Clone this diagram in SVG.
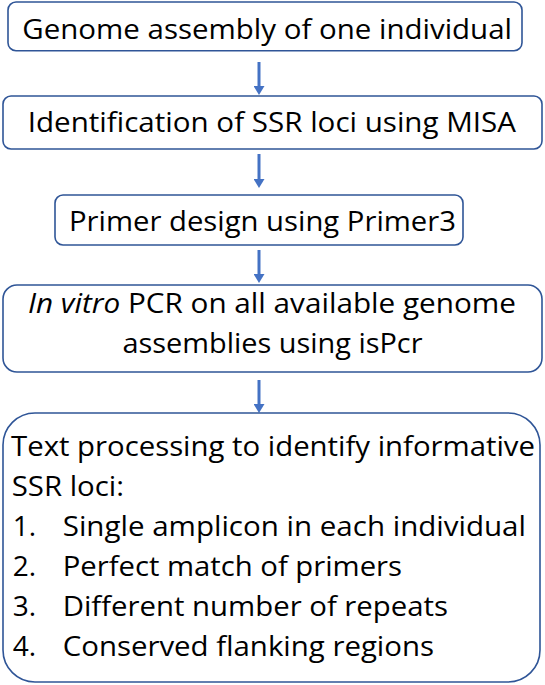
<svg xmlns="http://www.w3.org/2000/svg" width="545" height="685" viewBox="0 0 545 685">
<style>
.box{fill:#ffffff;stroke:#2F5597;stroke-width:1.6}
.t{font-family:"Open Sans","Liberation Sans",sans-serif;font-size:28px;fill:#000000}
.arr{stroke:#4472C4;stroke-width:3;fill:none}
</style>
<defs>
<marker id="ah" viewBox="0 0 9 11" refX="0" refY="5.5" markerWidth="9" markerHeight="11" markerUnits="userSpaceOnUse" orient="auto">
<path d="M0,0 L9,5.5 L0,11 z" fill="#4472C4"/>
</marker>
</defs>
<rect width="545" height="685" fill="#ffffff"/>
<g id="connectors">
<line class="arr" x1="259" y1="62" x2="259" y2="86" marker-end="url(#ah)"/>
<line class="arr" x1="259" y1="154" x2="259" y2="179" marker-end="url(#ah)"/>
<line class="arr" x1="259" y1="250" x2="259" y2="274" marker-end="url(#ah)"/>
<line class="arr" x1="259" y1="380" x2="259" y2="404" marker-end="url(#ah)"/>
</g>
<g id="n1">
<rect class="box" x="8" y="2" width="514" height="48.7" rx="8"/>
<text class="t" x="22.3" y="39.3" textLength="489.7" lengthAdjust="spacingAndGlyphs">Genome assembly of one individual</text>
</g>
<g id="n2">
<rect class="box" x="3" y="96" width="539" height="53" rx="8"/>
<text class="t" x="27.7" y="131.7" textLength="488.3" lengthAdjust="spacingAndGlyphs">Identification of SSR loci using MISA</text>
</g>
<g id="n3">
<rect class="box" x="55" y="195" width="408" height="50" rx="8"/>
<text class="t" x="69" y="231" textLength="387" lengthAdjust="spacingAndGlyphs">Primer design using Primer3</text>
</g>
<g id="n4">
<rect class="box" x="3" y="285" width="539" height="87" rx="14"/>
<text class="t" x="28" y="313" textLength="488" lengthAdjust="spacingAndGlyphs"><tspan font-style="italic">In vitro</tspan> PCR on all available genome</text>
<text class="t" x="122.5" y="353" textLength="300" lengthAdjust="spacingAndGlyphs">assemblies using isPcr</text>
</g>
<g id="n5">
<rect class="box" x="3" y="413" width="537" height="269" rx="32"/>
<text class="t" x="11" y="456" textLength="524" lengthAdjust="spacingAndGlyphs">Text processing to identify informative</text>
<text class="t" x="11.7" y="496" textLength="112.3" lengthAdjust="spacingAndGlyphs">SSR loci:</text>
<text class="t" x="12.7" y="536">1.</text>
<text class="t" x="62.7" y="536" textLength="463.3" lengthAdjust="spacingAndGlyphs">Single amplicon in each individual</text>
<text class="t" x="12.7" y="576">2.</text>
<text class="t" x="62.7" y="576" textLength="339.3" lengthAdjust="spacingAndGlyphs">Perfect match of primers</text>
<text class="t" x="12.7" y="616">3.</text>
<text class="t" x="62.7" y="616" textLength="385.3" lengthAdjust="spacingAndGlyphs">Different number of repeats</text>
<text class="t" x="12.7" y="656">4.</text>
<text class="t" x="62.7" y="656" textLength="371.3" lengthAdjust="spacingAndGlyphs">Conserved flanking regions</text>
</g>
</svg>
